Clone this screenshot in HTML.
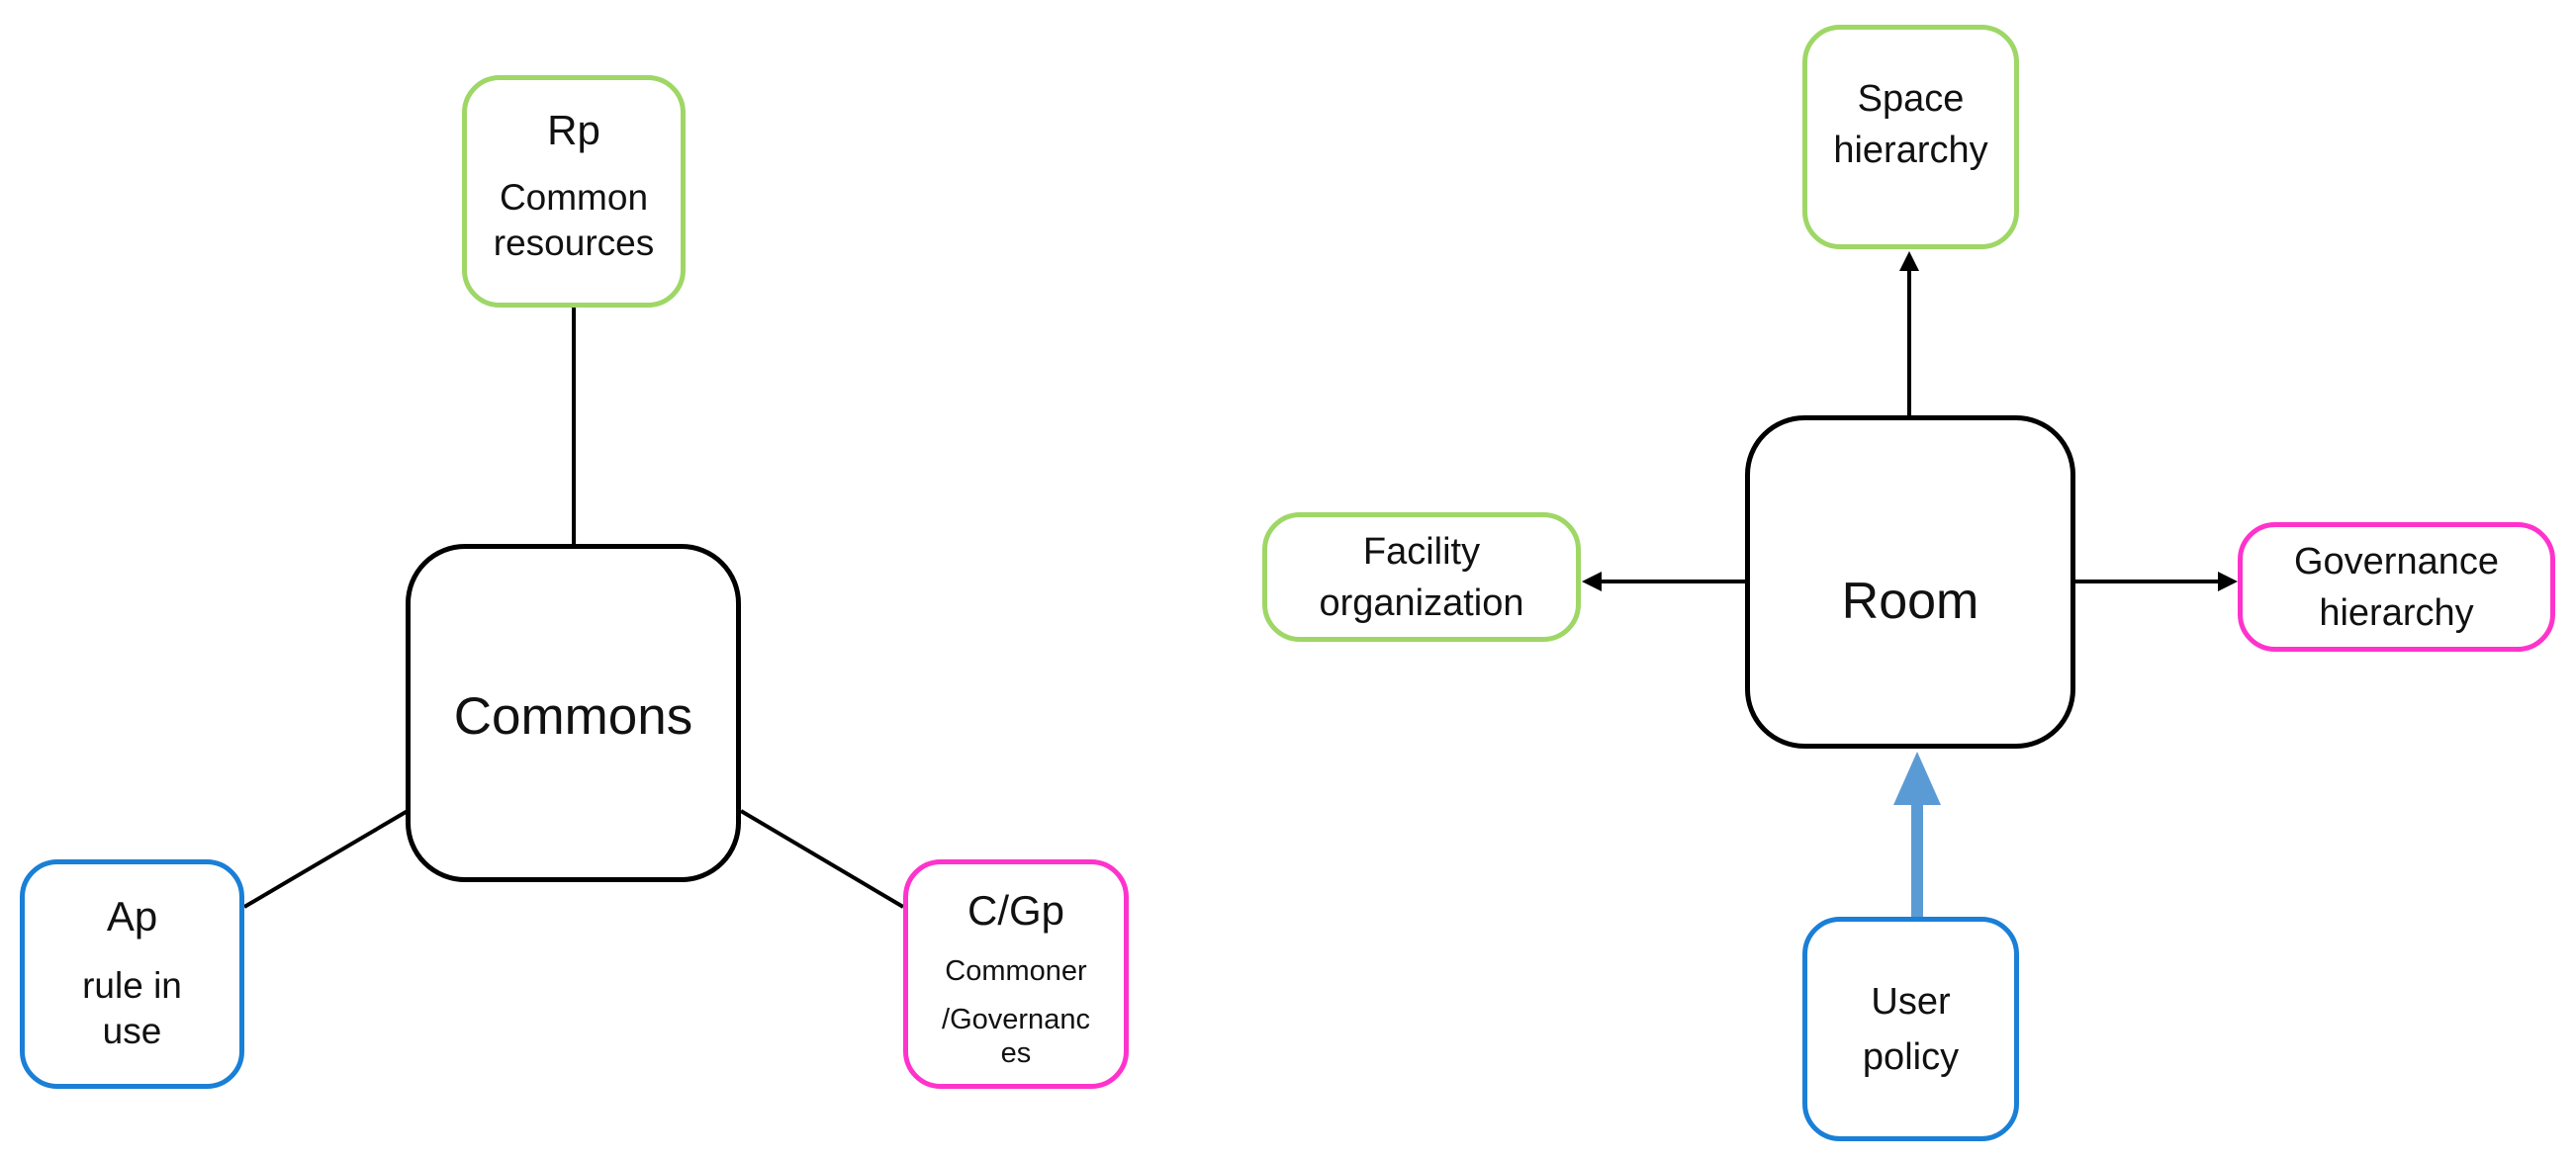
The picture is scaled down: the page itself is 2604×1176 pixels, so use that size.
<!DOCTYPE html>
<html><head><meta charset="utf-8"><style>
html,body{margin:0;padding:0;background:#fff;}
body{width:2604px;height:1176px;position:relative;overflow:hidden;font-family:"Liberation Sans","DejaVu Sans",sans-serif;color:#111;}
.b{position:absolute;box-sizing:border-box;border-radius:38px;background:#fff;display:flex;flex-direction:column;align-items:center;justify-content:center;text-align:center;}
.g{border:5px solid #9ed766;}
.m{border:5px solid #ff33cc;}
.u{border:5px solid #1a7fd6;}
.k{border:5px solid #000;border-radius:60px;}
</style></head><body>
<svg width="2604" height="1176" style="position:absolute;left:0;top:0">
<defs>
<marker id="a" markerWidth="5" markerHeight="5" refX="4" refY="2.5" orient="auto" markerUnits="strokeWidth"><path d="M0,0 L5,2.5 L0,5 z" fill="#000"/></marker>
</defs>
<g stroke="#000" stroke-width="4" fill="none">
<line x1="580" y1="311" x2="580" y2="552"/>
<line x1="247" y1="917" x2="412" y2="820"/>
<line x1="749" y1="820" x2="913" y2="917"/>
<line x1="1930" y1="420" x2="1930" y2="258" marker-end="url(#a)"/>
<line x1="1764" y1="588" x2="1603" y2="588" marker-end="url(#a)"/>
<line x1="2098" y1="588" x2="2258" y2="588" marker-end="url(#a)"/>
</g>
<line x1="1938" y1="927" x2="1938" y2="800" stroke="#5b9bd5" stroke-width="12"/>
<polygon points="1914,814 1962,814 1938,760" fill="#5b9bd5"/>
</svg>
<div class="b g" style="left:467px;top:76px;width:226px;height:235px;justify-content:flex-start;padding-top:26px">
<div style="font-size:42px;line-height:50px">Rp</div>
<div style="font-size:37px;line-height:46px;margin-top:20px">Common<br>resources</div></div>
<div class="b k" style="left:410px;top:550px;width:339px;height:342px;font-size:53px;padding-top:6px">Commons</div>
<div class="b u" style="left:20px;top:869px;width:227px;height:232px;justify-content:flex-start;padding-top:28px">
<div style="font-size:42px;line-height:50px">Ap</div>
<div style="font-size:37px;line-height:46px;margin-top:22px">rule in<br>use</div></div>
<div class="b m" style="left:913px;top:869px;width:228px;height:232px;justify-content:flex-start;padding-top:22px">
<div style="font-size:42px;line-height:50px">C/Gp</div>
<div style="font-size:29px;line-height:36px;margin-top:18px">Commoner</div>
<div style="font-size:29px;line-height:34px;margin-top:14px">/Governanc<br>es</div></div>
<div class="b g" style="left:1822px;top:25px;width:219px;height:227px;justify-content:flex-start;padding-top:44px;font-size:38px;line-height:52px">Space<br>hierarchy</div>
<div class="b k" style="left:1764px;top:420px;width:334px;height:337px;font-size:52px;padding-top:38px">Room</div>
<div class="b g" style="left:1276px;top:518px;width:322px;height:131px;font-size:38px;line-height:52px">Facility<br>organization</div>
<div class="b m" style="left:2262px;top:528px;width:321px;height:131px;font-size:38px;line-height:52px">Governance<br>hierarchy</div>
<div class="b u" style="left:1822px;top:927px;width:219px;height:227px;font-size:38px;line-height:56px">User<br>policy</div>
</body></html>
